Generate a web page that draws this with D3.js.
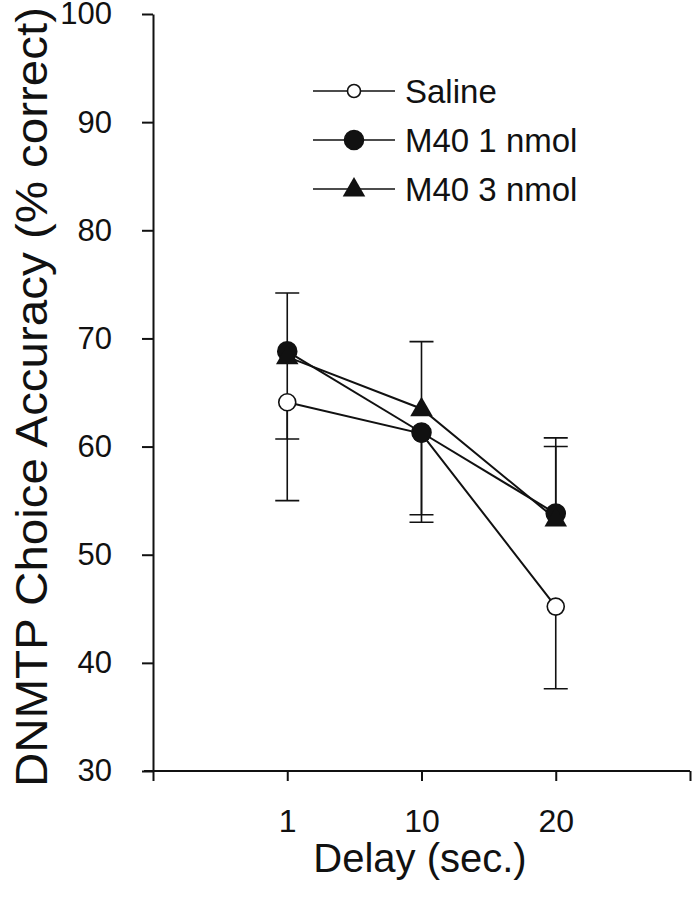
<!DOCTYPE html>
<html lang="en">
    <head>
        <meta charset="utf-8">
        <title>DNMTP choice accuracy</title>
        <script src="https://d3js.org/d3.v7.min.js"></script>
        <style type="text/css">
                body { margin: 0; background: #fff; }
                text {
                    font-family: "Liberation Sans", Arial, sans-serif;
                    fill: #111;
                }
                .axis path,
                .axis line {
                    fill: none;
                    stroke: #111;
                    stroke-width: 2px;
                }
        </style>
    </head>
    <body>
        <script type="text/javascript">
        // delays and their position on the x axis (0..4)
        var delays = ["1", "10", "20"];
        var delayPos = [1, 2, 3];

        var yTicks = [30, 40, 50, 60, 70, 80, 90, 100];

        var seriesNames = ["Saline", "M40 1 nmol", "M40 3 nmol"];
        var saline = [64.1, 61.2, 45.2];
        var m40_1 = [68.8, 61.3, 53.8];
        var m40_3 = [68.3, 63.5, 53.3];
        // error bar end values (one-sided bars)
        var salineErr = [55.0, 53.0, 37.6];
        var m40_1Err = [74.2, 53.7, 60.8];
        var m40_3Err = [60.7, 69.7, 60.0];

        var w = 698;
        var h = 899;

        var svg = d3.select("body")
                .append("svg")
                .attr("width", w)
                .attr("height", h);

        var x = d3.scaleLinear().domain([0, 4]).range([153, 690]);
        var y = d3.scaleLinear().domain([30, 100]).range([771, 14]);

        // y axis
        var yAxis = d3.axisLeft(y).tickValues(yTicks).tickSize(11).tickPadding(30).tickSizeOuter(0);
        var gy = svg.append("g")
                .attr("class", "axis")
                .attr("transform", "translate(" + x(0) + ",0)")
                .call(yAxis);
        gy.selectAll("text").style("font-size", "31px");

        // x axis, ticks at the three delays plus the end of the axis
        var xAxis = d3.axisBottom(x).tickValues([0, 1, 2, 3, 4]).tickSize(10).tickPadding(28).tickSizeOuter(0)
                .tickFormat(function(d) { return (d >= 1 && d <= 3) ? delays[d - 1] : ""; });
        var gx = svg.append("g")
                .attr("class", "axis")
                .attr("transform", "translate(0," + y(30) + ")")
                .call(xAxis);
        gx.select("path.domain").attr("d", "M" + (x(0) - 9) + ",0H" + x(4));
        gx.selectAll("text").style("font-size", "32px");

        // axis titles
        svg.append("text")
                .attr("x", 420)
                .attr("y", 872)
                .attr("text-anchor", "middle")
                .style("font-size", "40px")
                .text("Delay (sec.)");

        svg.append("text")
                .attr("transform", "translate(47,397) rotate(-90)")
                .attr("text-anchor", "middle")
                .attr("textLength", 780)
                .attr("lengthAdjust", "spacingAndGlyphs")
                .style("font-size", "44px")
                .text("DNMTP Choice Accuracy (% correct)");

        var series = [
            {name: seriesNames[0], vals: saline, err: salineErr, shape: "openCircle"},
            {name: seriesNames[1], vals: m40_1, err: m40_1Err, shape: "circle"},
            {name: seriesNames[2], vals: m40_3, err: m40_3Err, shape: "triangle"}
        ];

        var line = d3.line()
                .x(function(d, i) { return x(delayPos[i]); })
                .y(function(d) { return y(d); });

        // error bars
        series.forEach(function(s) {
            svg.append("g").selectAll("path")
                .data(s.vals)
                .enter()
                .append("path")
                .attr("d", function(d, i) {
                    var cx = x(delayPos[i]);
                    var y0 = y(d), y1 = y(s.err[i]);
                    return "M" + cx + "," + y0 + "V" + y1 + "M" + (cx - 12) + "," + y1 + "H" + (cx + 12);
                })
                .attr("stroke", "#111")
                .attr("stroke-width", 1.6)
                .attr("fill", "none");
        });

        // connecting lines
        series.forEach(function(s) {
            svg.append("path")
                .datum(s.vals)
                .attr("d", line)
                .attr("stroke", "#111")
                .attr("stroke-width", 2)
                .attr("fill", "none");
        });

        function drawMarker(g, shape, cx, cy, small) {
            if (shape === "triangle") {
                g.append("path")
                    .attr("d", d3.symbol().type(d3.symbolTriangle).size(220))
                    .attr("transform", "translate(" + cx + "," + (cy + 1) + ")")
                    .attr("fill", "#111");
            } else {
                g.append("circle")
                    .attr("cx", cx)
                    .attr("cy", cy)
                    .attr("r", shape === "openCircle" ? (small ? 6.5 : 8.5) : 9.5)
                    .attr("fill", shape === "openCircle" ? "#fff" : "#111")
                    .attr("stroke", "#111")
                    .attr("stroke-width", 1.6);
            }
        }

        // markers
        series.forEach(function(s) {
            var g = svg.append("g");
            s.vals.forEach(function(v, i) {
                drawMarker(g, s.shape, x(delayPos[i]), y(v), false);
            });
        });

        // legend
        var legendY = [91, 140, 189];
        series.forEach(function(s, i) {
            var g = svg.append("g");
            g.append("line")
                .attr("x1", 313).attr("x2", 395)
                .attr("y1", legendY[i]).attr("y2", legendY[i])
                .attr("stroke", "#111")
                .attr("stroke-width", 1.6);
            drawMarker(g, s.shape, 354, legendY[i], true);
            g.append("text")
                .attr("x", 405)
                .attr("y", legendY[i] + 12)
                .style("font-size", "33px")
                .text(s.name);
        });
        </script>
    </body>
</html>
